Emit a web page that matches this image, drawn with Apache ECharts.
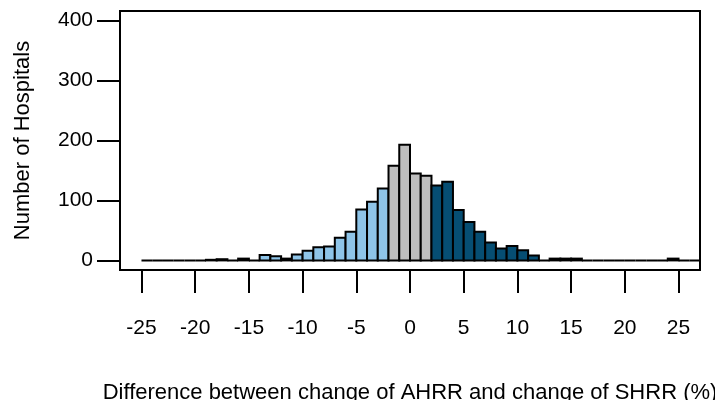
<!DOCTYPE html>
<html>
<head>
<meta charset="utf-8">
<script src="https://cdn.jsdelivr.net/npm/echarts@6/dist/echarts.min.js"></script>
<style>
  html, body { margin: 0; padding: 0; background: #fff; }
  #chart { width: 715px; height: 400px; }
</style>
</head>
<body>
<div id="chart"></div>
<script>
// Histogram of hospitals by difference between change of AHRR and change of SHRR (%)
// Bins are 1 percentage point wide, starting at -25.
const firstBreak = -25;
const binWidth = 1;
const counts = [
  0, 0, 0, 0, 0, 0,            // -25 .. -20
  1, 2, 0, 3, 0,               // -19 .. -15
  9, 7, 3, 10, 16,             // -14 .. -10
  22, 23, 38, 48, 85,          // -9 .. -5
  98, 120, 158, 193,           // -4 .. -1
  145, 141, 125, 131, 84,      // 0 .. 4
  64, 48, 30, 20, 24,          // 5 .. 9
  17, 8, 0, 3, 3,              // 10 .. 14
  3, 0, 0, 0, 0,               // 15 .. 19
  0, 0, 0, 0, 3,               // 20 .. 24
  0, 0, 0, 0, 0                // 25 .. 29
];
// bins whose left edge falls in [grayFrom, grayTo) are drawn grey
const grayFrom = -2;
const grayTo = 2;
const colorLow = '#8ec4e8';
const colorMid = '#bebebe';
const colorHigh = '#064e73';

const xTicks = [-25, -20, -15, -10, -5, 0, 5, 10, 15, 20, 25];
const yTicks = [0, 100, 200, 300, 400];
const xTitle = 'Difference between change of AHRR and change of SHRR (%)';
const yTitle = 'Number of Hospitals';

const data = counts.map((c, i) => {
  const lo = firstBreak + i * binWidth;
  const grp = lo < grayFrom ? 0 : (lo < grayTo ? 1 : 2);
  return [lo, lo + binWidth, c, grp];
});
const fills = [colorLow, colorMid, colorHigh];

const font = 'Liberation Sans, Arial, sans-serif';
const chart = echarts.init(document.getElementById('chart'), null, { renderer: 'canvas' });
chart.setOption({
  animation: false,
  backgroundColor: '#fff',
  grid: {
    left: 120, right: 15, top: 11, bottom: 130,
    containLabel: false, outerBoundsMode: 'none',
    show: true, borderColor: '#000', borderWidth: 2, backgroundColor: 'transparent'
  },
  xAxis: {
    type: 'value', min: -27, max: 27,
    axisLine: { show: false, onZero: false },
    splitLine: { show: false },
    axisTick: { show: true, customValues: xTicks, length: 23, lineStyle: { color: '#000', width: 2 } },
    axisLabel: { customValues: xTicks, margin: 48, color: '#000', fontSize: 21, fontFamily: font },
    name: xTitle, nameLocation: 'middle', nameGap: 112,
    nameTextStyle: { color: '#000', fontSize: 22, fontFamily: font }
  },
  yAxis: {
    type: 'value', min: -16, max: 416,
    axisLine: { show: false, onZero: false },
    splitLine: { show: false },
    axisTick: { show: true, customValues: yTicks, length: 23, lineStyle: { color: '#000', width: 2 } },
    axisLabel: { customValues: yTicks, margin: 27, color: '#000', fontSize: 21, fontFamily: font },
    name: yTitle, nameLocation: 'middle', nameGap: 86,
    nameTextStyle: { color: '#000', fontSize: 22, fontFamily: font }
  },
  series: [{
    type: 'custom',
    clip: true,
    encode: { x: [0, 1], y: 2 },
    data: data,
    renderItem: function (params, api) {
      const p0 = api.coord([api.value(0), api.value(2)]);
      const p1 = api.coord([api.value(1), 0]);
      const rect = echarts.graphic.clipRectByRect(
        { x: p0[0], y: p0[1], width: p1[0] - p0[0], height: p1[1] - p0[1] },
        { x: params.coordSys.x, y: params.coordSys.y, width: params.coordSys.width, height: params.coordSys.height }
      );
      if (!rect) return null;
      return {
        type: 'rect',
        shape: rect,
        style: { fill: fills[api.value(3)], stroke: '#000', lineWidth: 2 }
      };
    }
  }]
});
</script>
</body>
</html>
